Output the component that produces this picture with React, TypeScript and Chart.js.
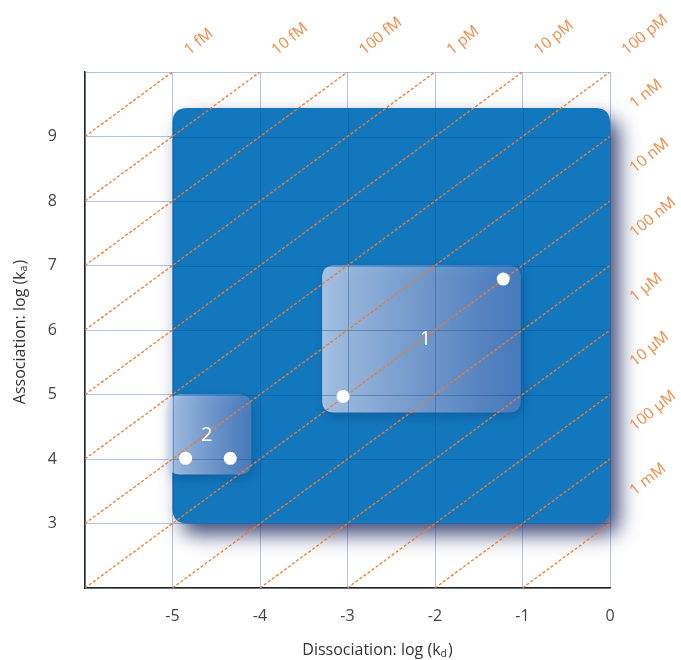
import React, { useEffect, useRef } from "react";
import { Chart, registerables } from "chart.js";

Chart.register(...registerables);

// ---- data ----
const xTicks = [-6, -5, -4, -3, -2, -1, 0];
const xTickLabels = ["", "-5", "-4", "-3", "-2", "-1", "0"];
const yTicks = [2, 3, 4, 5, 6, 7, 8, 9, 10];
const yTickLabels = ["", "3", "4", "5", "6", "7", "8", "9", ""];

const affinityLabels = ["1 fM", "10 fM", "100 fM", "1 pM", "10 pM", "100 pM", "1 nM", "10 nM", "100 nM", "1 µM", "10 µM", "100 µM", "1 mM"];
const affinityLogKD = [-15, -14, -13, -12, -11, -10, -9, -8, -7, -6, -5, -4, -3];

const region1Points = [
  { x: -3.05, y: 4.97 },
  { x: -1.22, y: 6.79 },
];
const region2Points = [
  { x: -4.85, y: 4.01 },
  { x: -4.34, y: 4.01 },
];

const coverageBox = { x0: -5, x1: 0, y0: 3, y1: 9.44 };
const region1Box = { x0: -3.29, x1: -1.02, y0: 4.72, y1: 7.0 };
const region2Box = { x0: -5.05, x1: -4.1, y0: 3.76, y1: 5.0 };
const regionLabels = [
  { text: "1", x: -2.11, y: 5.86 },
  { text: "2", x: -4.61, y: 4.37 },
];

const X_MIN = -6, X_MAX = 0, Y_MIN = 2, Y_MAX = 10;
const FONT = "'Open Sans', 'DejaVu Sans', sans-serif";

function lineEnds(k: number) {
  // log ka = log kd - logKD  ->  y = x - k
  let sx = X_MIN, sy = X_MIN - k;
  if (sy < Y_MIN) { sy = Y_MIN; sx = Y_MIN + k; }
  let ex = Y_MAX + k, ey = Y_MAX;
  if (ex > X_MAX) { ex = X_MAX; ey = X_MAX - k; }
  return { start: { x: sx, y: sy }, end: { x: ex, y: ey }, top: ey === Y_MAX };
}

function roundRect(ctx: CanvasRenderingContext2D, x: number, y: number, w: number, h: number, r: number) {
  ctx.beginPath();
  ctx.moveTo(x + r, y);
  ctx.lineTo(x + w - r, y);
  ctx.quadraticCurveTo(x + w, y, x + w, y + r);
  ctx.lineTo(x + w, y + h - r);
  ctx.quadraticCurveTo(x + w, y + h, x + w - r, y + h);
  ctx.lineTo(x + r, y + h);
  ctx.quadraticCurveTo(x, y + h, x, y + h - r);
  ctx.lineTo(x, y + r);
  ctx.quadraticCurveTo(x, y, x + r, y);
  ctx.closePath();
}

function boxPx(chart: any, b: { x0: number; x1: number; y0: number; y1: number }) {
  const xs = chart.scales.x, ys = chart.scales.y;
  const l = xs.getPixelForValue(b.x0), r = xs.getPixelForValue(b.x1);
  const t = ys.getPixelForValue(b.y1), bt = ys.getPixelForValue(b.y0);
  return { l, r, t, b: bt, w: r - l, h: bt - t };
}

const backgroundPlugin = {
  id: "bgShapes",
  beforeDatasetsDraw(chart: any) {
    const ctx: CanvasRenderingContext2D = chart.ctx;
    const xs = chart.scales.x, ys = chart.scales.y;
    const cov = boxPx(chart, coverageBox);

    ctx.save();
    ctx.shadowColor = "rgba(30,45,100,0.85)";
    ctx.shadowBlur = 20;
    ctx.shadowOffsetX = 9;
    ctx.shadowOffsetY = 11;
    ctx.fillStyle = "#1277bd";
    roundRect(ctx, cov.l, cov.t, cov.w, cov.h, 15);
    ctx.fill();
    ctx.restore();

    for (const b of [region1Box, region2Box]) {
      const p = boxPx(chart, b);
      ctx.save();
      ctx.shadowColor = "rgba(10,40,100,0.45)";
      ctx.shadowBlur = 12;
      ctx.shadowOffsetX = 3;
      ctx.shadowOffsetY = 4;
      const g = ctx.createLinearGradient(p.l, 0, p.r, 0);
      g.addColorStop(0, "rgba(205,218,242,0.78)");
      g.addColorStop(1, "rgba(105,135,200,0.62)");
      ctx.fillStyle = g;
      roundRect(ctx, p.l, p.t, p.w, p.h, 12);
      ctx.fill();
      ctx.restore();
    }

    // faint grid over the coverage area
    ctx.save();
    roundRect(ctx, cov.l, cov.t, cov.w, cov.h, 15);
    ctx.clip();
    ctx.strokeStyle = "rgba(0,75,150,0.35)";
    ctx.lineWidth = 1;
    for (const v of xTicks) {
      const px = Math.round(xs.getPixelForValue(v)) + 0.5;
      ctx.beginPath();
      ctx.moveTo(px, cov.t);
      ctx.lineTo(px, cov.b);
      ctx.stroke();
    }
    for (const v of yTicks) {
      const py = Math.round(ys.getPixelForValue(v)) + 0.5;
      ctx.beginPath();
      ctx.moveTo(cov.l, py);
      ctx.lineTo(cov.r, py);
      ctx.stroke();
    }
    ctx.restore();
  },
  afterDatasetsDraw(chart: any) {
    const ctx: CanvasRenderingContext2D = chart.ctx;
    const xs = chart.scales.x, ys = chart.scales.y;
    ctx.save();
    ctx.fillStyle = "#ffffff";
    ctx.font = `20px ${FONT}`;
    ctx.textAlign = "center";
    ctx.textBaseline = "middle";
    for (const l of regionLabels) {
      ctx.fillText(l.text, xs.getPixelForValue(l.x), ys.getPixelForValue(l.y));
    }
    ctx.restore();
  },
  afterDraw(chart: any) {
    const ctx: CanvasRenderingContext2D = chart.ctx;
    const xs = chart.scales.x, ys = chart.scales.y;
    const ca = chart.chartArea;
    const dxUnit = xs.getPixelForValue(1) - xs.getPixelForValue(0);
    const dyUnit = ys.getPixelForValue(0) - ys.getPixelForValue(1);
    const ang = Math.atan2(dyUnit, dxUnit) + 0.05;

    // affinity labels
    ctx.save();
    ctx.fillStyle = "#f08a45";
    ctx.font = `15.5px ${FONT}`;
    ctx.textAlign = "left";
    ctx.textBaseline = "middle";
    affinityLogKD.forEach((k, i) => {
      const e = lineEnds(k);
      const px = xs.getPixelForValue(e.end.x);
      const py = ys.getPixelForValue(e.end.y);
      const off = e.top ? { dx: 14, dy: -20 } : { dx: 22, dy: -31 };
      ctx.save();
      ctx.translate(px + off.dx, py + off.dy);
      ctx.rotate(-ang);
      ctx.fillText(affinityLabels[i], 0, 0);
      ctx.restore();
    });
    ctx.restore();

    // axis titles with subscripts
    const drawTitle = (main: string, sub: string, cx: number, cy: number, rot: number) => {
      ctx.save();
      ctx.translate(cx, cy);
      ctx.rotate(rot);
      ctx.fillStyle = "#333333";
      ctx.textBaseline = "middle";
      ctx.textAlign = "left";
      ctx.font = `16px ${FONT}`;
      const w1 = ctx.measureText(main).width;
      const w3 = ctx.measureText(")").width;
      ctx.font = `10.5px ${FONT}`;
      const w2 = ctx.measureText(sub).width;
      const total = w1 + w2 + w3 + 1;
      let x = -total / 2;
      ctx.font = `16px ${FONT}`;
      ctx.fillText(main, x, 0);
      x += w1;
      ctx.font = `10.5px ${FONT}`;
      ctx.fillText(sub, x, 4);
      x += w2 + 1;
      ctx.font = `16px ${FONT}`;
      ctx.fillText(")", x, 0);
      ctx.restore();
    };
    drawTitle("Dissociation: log (k", "d", (ca.left + ca.right) / 2 + 30, 650, 0);
    drawTitle("Association: log (k", "a", 20, (ca.top + ca.bottom) / 2 + 2, -Math.PI / 2);
  },
};

export default function App() {
  const canvasRef = useRef<HTMLCanvasElement | null>(null);

  useEffect(() => {
    if (!canvasRef.current) return;
    const lineSets = affinityLogKD.map((k, i) => {
      const e = lineEnds(k);
      return {
        type: "line" as const,
        label: affinityLabels[i],
        data: [e.start, e.end],
        borderColor: "#f07a28",
        borderWidth: 1.3,
        borderDash: [3, 2],
        pointRadius: 0,
        fill: false,
        showLine: true,
      };
    });

    const chart = new Chart(canvasRef.current, {
      type: "scatter",
      data: {
        datasets: [
          {
            type: "scatter" as const,
            label: "points",
            data: [...region1Points, ...region2Points],
            backgroundColor: "#ffffff",
            borderWidth: 0,
            pointRadius: 6.5,
            pointHoverRadius: 6.5,
          },
          ...lineSets,
        ] as any,
      },
      options: {
        animation: false,
        responsive: true,
        maintainAspectRatio: false,
        layout: { padding: { top: 72, right: 71, left: 0, bottom: 0 } },
        plugins: { legend: { display: false }, tooltip: { enabled: false } },
        scales: {
          x: {
            type: "linear",
            min: X_MIN,
            max: X_MAX,
            afterBuildTicks: (s: any) => { s.ticks = xTicks.map((v) => ({ value: v })); },
            afterFit: (s: any) => { s.height = 72; },
            ticks: {
              callback: (_v: any, i: number) => xTickLabels[i],
              font: { family: FONT, size: 16 },
              color: "#444444",
              padding: 19,
              maxRotation: 0,
            },
            grid: { color: "#b3c4e8", lineWidth: 1, drawTicks: false },
            border: { color: "#222222", width: 1.5 },
          },
          y: {
            type: "linear",
            min: Y_MIN,
            max: Y_MAX,
            afterBuildTicks: (s: any) => { s.ticks = yTicks.map((v) => ({ value: v })); },
            afterFit: (s: any) => { s.width = 85; },
            ticks: {
              callback: (_v: any, i: number) => yTickLabels[i],
              font: { family: FONT, size: 16 },
              color: "#444444",
              padding: 28,
            },
            grid: { color: "#b3c4e8", lineWidth: 1, drawTicks: false },
            border: { color: "#222222", width: 1.5 },
          },
        },
      },
      plugins: [backgroundPlugin],
    });
    return () => chart.destroy();
  }, []);

  return (
    <div style={{ position: "fixed", left: 0, top: 0, width: 681, height: 660, background: "#ffffff" }}>
      <canvas ref={canvasRef} />
    </div>
  );
}
